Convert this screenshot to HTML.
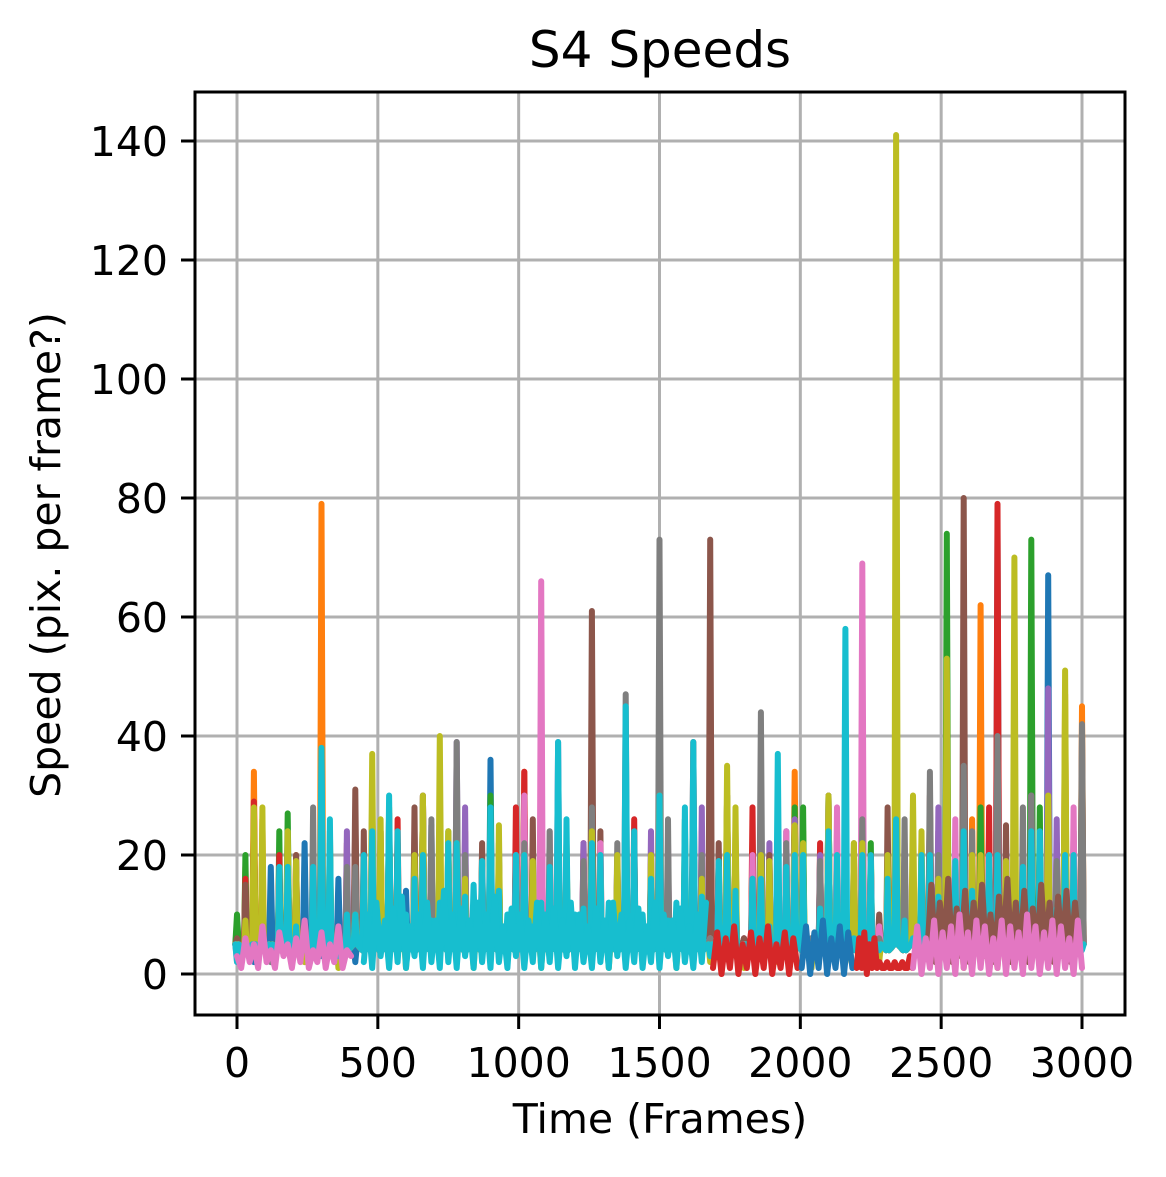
<!DOCTYPE html>
<html><head><meta charset="utf-8"><style>
body{margin:0;background:#fff;}
svg text{font-family:"DejaVu Sans","Liberation Sans",sans-serif;fill:#000;}
</style></head><body>
<svg id="chart" width="1166" height="1172" viewBox="0 0 1166 1172" xmlns="http://www.w3.org/2000/svg">
<text x="660" y="67" font-size="50" text-anchor="middle">S4 Speeds</text>
<g id="grid"></g>
<defs><clipPath id="clip"><rect x="195" y="92" width="930" height="923"/></clipPath></defs>
<g id="series" clip-path="url(#clip)"></g>
<rect x="195" y="92" width="930" height="923" fill="none" stroke="#000" stroke-width="3"/>
<g id="ticks"></g>
<text x="660" y="1133" font-size="41" text-anchor="middle">Time (Frames)</text>
<text transform="translate(60,555) rotate(-90)" font-size="41" text-anchor="middle">Speed (pix. per frame?)</text>
</svg>
<script>
const xTicks=[0,500,1000,1500,2000,2500,3000];
const yTicks=[0,20,40,60,80,100,120,140];
const colors=["#1f77b4","#ff7f0e","#2ca02c","#d62728","#9467bd","#8c564b","#e377c2","#7f7f7f","#bcbd22","#17becf"];
const step=60;
const blue=[5,2,18,4,22,3,16,2,30,5,14,3,25,4,12,36,5,20,3,15,6,28,4,18,5,16,3,22,6,30,4,12,8,24,6,30,5,14,8,20,5,12,6,28,10,74,8,22,67,10,6];
const orange=[8,34,4,20,6,79,5,18,3,24,6,30,4,28,5,20,3,34,4,22,5,40,6,18,3,25,5,30,8,20,4,28,3,34,6,22,4,18,6,16,8,24,5,30,62,14,20,10,30,47,45];
const green=[10,26,5,27,4,22,3,18,6,25,4,20,5,24,3,30,4,22,6,20,5,28,4,24,3,20,6,30,4,26,5,22,8,28,4,30,6,33,8,25,10,20,74,15,28,12,35,73,10,30,20];
const red=[4,29,3,20,5,30,6,26,4,27,3,24,5,28,4,22,6,34,5,20,3,35,4,26,5,30,6,39,8,30,6,28,5,25,4,24,6,20,8,45,10,30,6,36,15,79,12,28,30,20,10];
const purple=[3,12,2,15,4,20,3,24,5,18,3,30,4,39,3,20,6,24,4,39,5,22,4,30,6,39,5,28,4,20,6,22,5,26,4,20,6,30,8,22,5,28,10,30,12,35,15,30,48,20,12];
const brown=[6,15,4,20,3,25,5,31,4,22,6,28,3,26,5,24,4,30,6,22,5,61,4,36,6,20,5,28,73,22,6,20,5,18,6,24,8,20,10,30,12,22,15,80,18,25,20,30,15,35,40];
const pink=[2,4,3,5,2,20,3,8,4,15,3,22,4,20,3,18,4,30,66,20,4,22,5,18,6,26,4,20,6,18,5,22,4,25,6,30,5,69,8,54,10,20,10,28,10,30,12,25,10,28,22];
const gray=[3,10,2,20,4,37,3,18,5,25,4,30,3,39,5,20,4,22,3,24,5,28,6,47,4,73,5,20,6,30,4,44,5,22,6,20,5,26,6,30,8,34,10,35,12,40,15,30,20,35,42];
const olive=[5,28,3,24,2,22,1,10,37,28,1,30,40,22,1,25,2,20,1,22,2,24,1,20,2,30,1,22,2,35,1,20,2,25,1,30,2,22,2,141,30,2,53,1,20,1,70,2,30,51,5];
const cyan=[2,5,3,18,4,38,3,10,24,30,10,20,12,22,15,28,10,20,12,39,10,22,12,45,10,30,12,39,3,20,4,16,37,20,5,24,58,20,4,26,6,20,8,24,5,20,6,24,5,20,4];
const midSpikes=[14,22,8,18,26,11,20,6,24,16,9,28,13,19];
const pinkEarly=[3,1,6,2,5,1,8,2,4,1,7,3,5,1,6,2,9,1,4,2,7,1,5,2,8,1,4,3];
const pinkEarlyStart=0;
const cyanDense=[2,10,1,12,3,9,1,11,2,13,1,8,3,10,1,12,2,9,1,14,2,10,1,11,3,9,1,12,2,10,1,13,2,8,1,11,3,10,1,9,2,12,1,10,2,11,1,9,3,12,1,10,2,8,1,11,2,9,1,12,3,10,1,9,2,11,1,8,2,12,1,10,3,9,1,11,2,8,1,10,2,12];
const cyanDenseStart=450;
const redDense=[1,7,0,6,1,8,0,5,1,7,0,6,1,8,0,5,1,7,0,6,1];
const redDenseStart=1690;
const blueDense=[1,8,0,7,1,9,0,6,1,8,0,7,1];
const blueDenseStart=2005;
const redLow=[1,6,1,7,0,5,1,6,1,2,1,1,2,1,1,2,1,1,2,1,1,3,1];
const redLowStart=2200;
const brownDense=[3,15,2,12,4,16,2,11,3,14,2,12,4,15,3,10,2,13,4,16,2,12,3,14,2,11,4,15,3,12,2,13,3,14,2,12,4];
const brownDenseStart=2450;
const pinkLate=[1,8,0,6,1,9,0,7,1,8,0,10,1,7,0,9,1,8,0,6,1,9,0,8,1,7,0,10,1,8,0,7,1,9,0,8,1,6,0,9,1];
const pinkLateStart=2400;

const X=f=>237+f*(845/3000);
const Y=v=>974-v*(833/140);
const NS="http://www.w3.org/2000/svg";
const grid=document.getElementById('grid'),ticks=document.getElementById('ticks'),sg=document.getElementById('series');
function mk(tag,attrs,parent){const e=document.createElementNS(NS,tag);for(const k in attrs)e.setAttribute(k,attrs[k]);parent.appendChild(e);return e;}
xTicks.forEach(t=>{
  const g=mk('line',{x1:X(t),x2:X(t),y1:92,y2:1015,stroke:'#b0b0b0','stroke-width':3},grid);
  
  
  const tk=mk('line',{x1:X(t),x2:X(t),y1:1015,y2:1029,stroke:'#000','stroke-width':3},ticks);
  
  
  const tx=mk('text',{x:X(t),y:1077,'font-size':41,'text-anchor':'middle'},ticks);
  tx.textContent=t;
  
  
});
yTicks.forEach(t=>{
  const g=mk('line',{x1:195,x2:1125,y1:Y(t),y2:Y(t),stroke:'#b0b0b0','stroke-width':3},grid);
  
  
  const tk=mk('line',{x1:181,x2:195,y1:Y(t),y2:Y(t),stroke:'#000','stroke-width':3},ticks);
  
  
  const tx=mk('text',{x:168,y:Y(t)+15,'font-size':41,'text-anchor':'end'},ticks);
  tx.textContent=t;
  
  
});
function draw(vals,start,st,color,name,w){
  const pts=vals.map((v,i)=>X(start+i*st).toFixed(1)+','+Y(v).toFixed(1)).join(' ');
  const p=mk('polyline',{points:pts,fill:'none',stroke:color,'stroke-width':w,'stroke-linejoin':'round','stroke-linecap':'round'},sg);
  
  
}
function drawSpikes(vals,color,name,k){
  const pts=[];
  vals.forEach((v,i)=>{
    const f=i*step;
    pts.push(X(f-6).toFixed(1)+','+Y(5).toFixed(1));
    pts.push(X(f).toFixed(1)+','+Y(v).toFixed(1));
    pts.push(X(f+6).toFixed(1)+','+Y(5).toFixed(1));
    if(i<vals.length-1){
      const m=Math.min(midSpikes[(i+k)%midSpikes.length],Math.max(v,vals[i+1]));
      pts.push(X(f+step/2-5).toFixed(1)+','+Y(4).toFixed(1));
      pts.push(X(f+step/2).toFixed(1)+','+Y(m).toFixed(1));
      pts.push(X(f+step/2+5).toFixed(1)+','+Y(4).toFixed(1));
    }
  });
  const p=mk('polyline',{points:pts.join(' '),fill:'none',stroke:color,'stroke-width':6,'stroke-linejoin':'round','stroke-linecap':'round'},sg);
  
  
}
const main=[blue,orange,green,red,purple,brown,pink,gray,olive,cyan];
const names=['series-0','series-1','series-2','series-3','series-4','series-5','series-6','series-7','series-8','series-9'];
main.forEach((s,i)=>drawSpikes(s,colors[i],names[i],i*3));
draw(pinkEarly,pinkEarlyStart,15,colors[6],'series-6-low-early',6);
draw(cyanDense,cyanDenseStart,15,colors[9],'series-9-dense',6);
draw(redDense,redDenseStart,15,colors[3],'series-3-dense',6);
draw(blueDense,blueDenseStart,15,colors[0],'series-0-dense',6);
draw(redLow,redLowStart,9,colors[3],'series-3-low',6);
draw(brownDense,brownDenseStart,15,colors[5],'series-5-dense',6);
draw(pinkLate,pinkLateStart,15,colors[6],'series-6-dense',6);
</script>
</body></html>
